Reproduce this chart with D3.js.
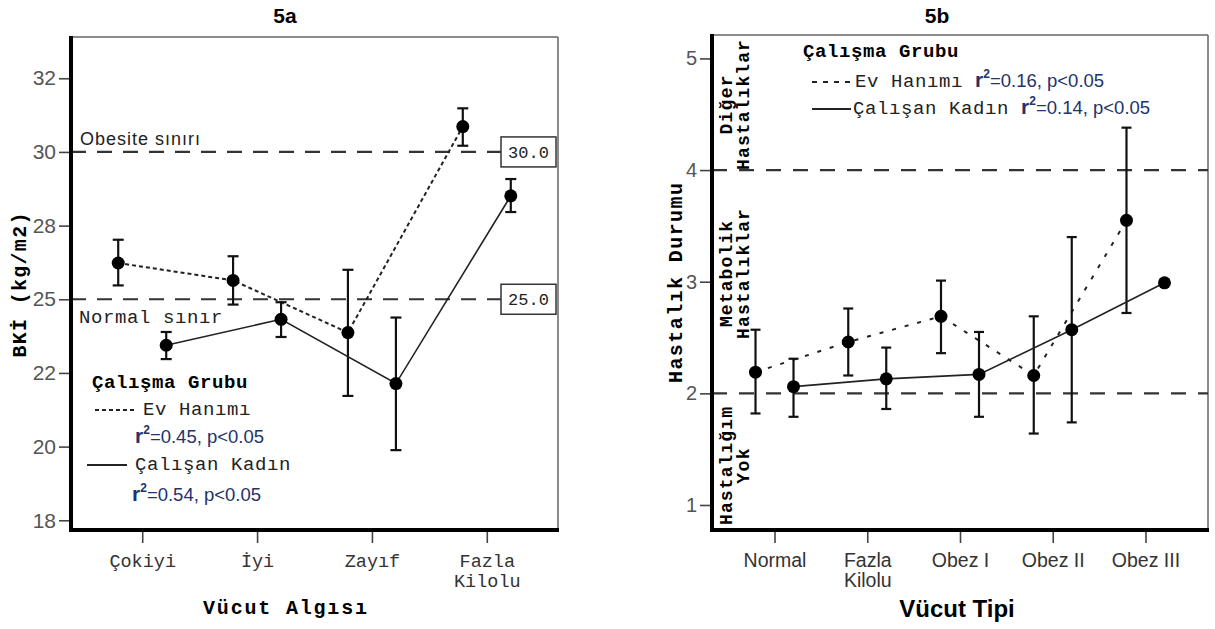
<!DOCTYPE html>
<html>
<head>
<meta charset="utf-8">
<script src="https://cdn.jsdelivr.net/npm/d3@7"></script>
<style>
  body { margin: 0; background: #fff; }
  svg { display: block; background: #fff; }
</style>
</head>
<body>
<svg id="chart" width="1215" height="629"></svg>
<script>
// ---- 5a : BKI by body perception ----
const catsA = ["Çokiyi", "İyi", "Zayıf", "Fazla\nKilolu"];
const evMeanA = [26.23, 25.64, 23.87, 30.86];
const evLowA = [25.47, 24.82, 21.72, 30.21];
const evHighA = [27.02, 26.46, 26.00, 31.48];
const ckMeanA = [23.44, 24.32, 22.14, 28.51];
const ckLowA = [22.97, 23.72, 19.88, 27.96];
const ckHighA = [23.89, 24.90, 24.38, 29.08];
const yTicksA = [17.5, 20, 22.5, 25, 27.5, 30, 32.5];
const yTickLabelsA = ["18", "20", "22", "25", "28", "30", "32"];
const refA = [30, 25];
const refBoxA = ["30.0", "25.0"];

// ---- 5b : disease status by body type ----
const catsB = ["Normal", "Fazla\nKilolu", "Obez I", "Obez II", "Obez III"];
const evMeanB = [2.19, 2.46, 2.69, 2.16, 3.55];
const evLowB = [1.82, 2.16, 2.36, 1.64, 2.72];
const evHighB = [2.57, 2.76, 3.01, 2.69, 4.38];
const ckMeanB = [2.06, 2.13, 2.17, 2.57, 2.99];
const ckLowB = [1.79, 1.86, 1.79, 1.74, null];
const ckHighB = [2.31, 2.41, 2.55, 3.40, null];
const yTicksB = [1, 2, 3, 4, 5];
const refB = [4, 2];
const zonesB = [
  { lines: ["Diğer", "Hastalıklar"], cy: 105 },
  { lines: ["Metabolik", "Hastalıklar"], cy: 274 },
  { lines: ["Hastalığım", "Yok"], cy: 466 }
];

const svg = d3.select("#chart");
const mono = "'Liberation Mono', 'Courier New', monospace";
const sans = "'Liberation Sans', Arial, sans-serif";
const rColor = "#22336b";

function series(g, x, y, cats, mean, lo, hi, off, dash, capW) {
  const pts = cats.map((c, i) => ({ c, m: mean[i], lo: lo[i], hi: hi[i] }));
  const line = d3.line().x(d => x(d.c) + off).y(d => y(d.m));
  g.append("path")
    .datum(pts)
    .attr("d", line)
    .attr("fill", "none")
    .attr("stroke", "#222")
    .attr("stroke-width", dash ? 2 : 1.6)
    .attr("stroke-dasharray", dash || null);
  const eb = g.selectAll(null).data(pts.filter(d => d.lo != null)).join("g")
    .attr("stroke", "#111").attr("stroke-width", 2.2);
  eb.append("line").attr("x1", d => x(d.c) + off).attr("x2", d => x(d.c) + off)
    .attr("y1", d => y(d.lo)).attr("y2", d => y(d.hi));
  eb.append("line").attr("x1", d => x(d.c) + off - capW / 2).attr("x2", d => x(d.c) + off + capW / 2)
    .attr("y1", d => y(d.hi)).attr("y2", d => y(d.hi));
  eb.append("line").attr("x1", d => x(d.c) + off - capW / 2).attr("x2", d => x(d.c) + off + capW / 2)
    .attr("y1", d => y(d.lo)).attr("y2", d => y(d.lo));
  g.selectAll(null).data(pts).join("circle")
    .attr("cx", d => x(d.c) + off).attr("cy", d => y(d.m))
    .attr("r", 6.5).attr("fill", "#000");
}

function frame(g, b) {
  g.append("line").attr("x1", b.left).attr("x2", b.right).attr("y1", b.top).attr("y2", b.top)
    .attr("stroke", "#666").attr("stroke-width", 1.5);
  g.append("line").attr("x1", b.right).attr("x2", b.right).attr("y1", b.top).attr("y2", b.bottom)
    .attr("stroke", "#666").attr("stroke-width", 1.5);
}

function axes(g, x, y, b, yTicks, yFmt, yFont, xFont, xSize, xLineH) {
  const ya = g.append("g").attr("transform", `translate(${b.left},0)`)
    .call(d3.axisLeft(y).tickValues(yTicks).tickFormat(yFmt).tickSize(12).tickPadding(3));
  ya.select(".domain").remove();
  ya.selectAll(".tick line").attr("stroke", "#444").attr("stroke-width", 1.6);
  ya.selectAll(".tick text").attr("font-family", sans).attr("font-size", yFont).attr("fill", "#555");

  const xa = g.append("g").attr("transform", `translate(0,${b.bottom})`)
    .call(d3.axisBottom(x).tickSize(13).tickFormat(""));
  xa.select(".domain").remove();
  xa.selectAll(".tick line").attr("stroke", "#444").attr("stroke-width", 1.6);
  xa.selectAll(".tick").append("text")
    .attr("text-anchor", "middle")
    .attr("font-family", xFont).attr("font-size", xSize).attr("fill", "#333")
    .each(function(d) {
      d3.select(this).selectAll("tspan").data(d.split("\n")).join("tspan")
        .attr("x", 0).attr("y", (t, i) => 37 + i * xLineH).text(t => t);
    });

  g.append("line").attr("x1", b.left).attr("x2", b.left).attr("y1", b.top - 1).attr("y2", b.bottom + 2)
    .attr("stroke", "#000").attr("stroke-width", 4);
  g.append("line").attr("x1", b.left).attr("x2", b.right + 1).attr("y1", b.bottom).attr("y2", b.bottom)
    .attr("stroke", "#000").attr("stroke-width", 4);
}

function vText(g, x, y, txt, size, len, family, weight) {
  g.append("text")
    .attr("transform", `translate(${x},${y}) rotate(-90)`)
    .attr("text-anchor", "middle")
    .attr("font-family", family).attr("font-size", size).attr("font-weight", weight)
    .attr("textLength", len).attr("lengthAdjust", "spacing")
    .text(txt);
}

function rSquared(t, val) {
  t.append("tspan").attr("font-family", sans).attr("font-weight", "bold").attr("font-size", 21).attr("fill", rColor).text("r");
  t.append("tspan").attr("font-family", sans).attr("font-weight", "bold").attr("font-size", 12).attr("dy", -9).attr("fill", rColor).text("2");
  t.append("tspan").attr("font-family", sans).attr("font-size", 18.5).attr("dy", 9).attr("fill", rColor).text(val);
}

// ================= PANEL 5a =================
{
  const b = { left: 71, right: 558, top: 37, bottom: 530 };
  const g = svg.append("g");
  const x = d3.scalePoint().domain(catsA).range([b.left, b.right]).padding(0.62);
  const y = d3.scaleLinear().domain([17.17, 33.9]).range([b.bottom, b.top]);

  frame(g, b);

  refA.forEach((v, i) => {
    g.append("line").attr("x1", b.left).attr("x2", b.right).attr("y1", y(v)).attr("y2", y(v))
      .attr("stroke", "#333").attr("stroke-width", 2.2).attr("stroke-dasharray", "15,11");
    g.append("rect").attr("x", 501).attr("y", y(v) - 15).attr("width", 55).attr("height", 30)
      .attr("fill", "#fff").attr("stroke", "#333").attr("stroke-width", 1.5);
    g.append("text").attr("x", 528.5).attr("y", y(v) + 6).attr("text-anchor", "middle")
      .attr("font-family", mono).attr("font-size", 17).attr("fill", "#222").text(refBoxA[i]);
  });
  g.append("text").attr("x", 80).attr("y", y(30) - 7)
    .attr("font-family", sans).attr("font-size", 18).attr("letter-spacing", 1).attr("fill", "#222")
    .text("Obesite sınırı");
  g.append("text").attr("x", 79).attr("y", y(25) + 24)
    .attr("font-family", mono).attr("font-size", 19).attr("letter-spacing", 0.6).attr("fill", "#222")
    .text("Normal sınır");

  series(g, x, y, catsA, evMeanA, evLowA, evHighA, -24, "4,3", 11);
  series(g, x, y, catsA, ckMeanA, ckLowA, ckHighA, 24, null, 11);

  axes(g, x, y, b, yTicksA, (d, i) => yTickLabelsA[i], 21, mono, 18.5, 20);

  // legend
  g.append("text").attr("x", 92).attr("y", 388)
    .attr("font-family", mono).attr("font-weight", "bold").attr("font-size", 19).attr("letter-spacing", 0.6)
    .text("Çalışma Grubu");
  g.append("line").attr("x1", 95).attr("x2", 135).attr("y1", 410).attr("y2", 410)
    .attr("stroke", "#222").attr("stroke-width", 2).attr("stroke-dasharray", "4,3");
  g.append("text").attr("x", 143).attr("y", 415)
    .attr("font-family", mono).attr("font-size", 19).attr("letter-spacing", 0.6).attr("fill", "#222")
    .text("Ev Hanımı");
  rSquared(g.append("text").attr("x", 135).attr("y", 443), "=0.45, p<0.05");
  g.append("line").attr("x1", 87).attr("x2", 127).attr("y1", 465).attr("y2", 465)
    .attr("stroke", "#222").attr("stroke-width", 1.8);
  g.append("text").attr("x", 135).attr("y", 470)
    .attr("font-family", mono).attr("font-size", 19).attr("letter-spacing", 0.6).attr("fill", "#222")
    .text("Çalışan Kadın");
  rSquared(g.append("text").attr("x", 132).attr("y", 501), "=0.54, p<0.05");

  vText(g, 26, 285, "BKİ (kg/m2)", 20, 145, mono, "bold");
  g.append("text").attr("x", 285).attr("y", 614).attr("text-anchor", "middle")
    .attr("font-family", mono).attr("font-weight", "bold").attr("font-size", 20)
    .attr("textLength", 164).attr("lengthAdjust", "spacing").text("Vücut Algısı");
  g.append("text").attr("x", 285).attr("y", 23).attr("text-anchor", "middle")
    .attr("font-family", sans).attr("font-weight", "bold").attr("font-size", 21).text("5a");
}

// ================= PANEL 5b =================
{
  const b = { left: 712, right: 1208, top: 35, bottom: 530 };
  const g = svg.append("g");
  const x = d3.scalePoint().domain(catsB).range([b.left, b.right]).padding(0.674);
  const y = d3.scaleLinear().domain([0.776, 5.21]).range([b.bottom, b.top]);

  frame(g, b);

  refB.forEach(v => {
    g.append("line").attr("x1", b.left).attr("x2", b.right).attr("y1", y(v)).attr("y2", y(v))
      .attr("stroke", "#333").attr("stroke-width", 2.2).attr("stroke-dasharray", "15,12");
  });

  zonesB.forEach(z => {
    z.lines.forEach((t, i) => {
      vText(g, 732 + i * 17, z.cy, t, 18, t.length * 11.8, mono, "bold");
    });
  });

  series(g, x, y, catsB, evMeanB, evLowB, evHighB, -19, "4,9", 10);
  series(g, x, y, catsB, ckMeanB, ckLowB, ckHighB, 19, null, 10);

  axes(g, x, y, b, yTicksB, d3.format("d"), 20, sans, 19.5, 20);

  // legend
  g.append("text").attr("x", 803).attr("y", 57)
    .attr("font-family", mono).attr("font-weight", "bold").attr("font-size", 19).attr("letter-spacing", 0.6)
    .text("Çalışma Grubu");
  g.append("line").attr("x1", 812).attr("x2", 850).attr("y1", 82).attr("y2", 82)
    .attr("stroke", "#222").attr("stroke-width", 2).attr("stroke-dasharray", "5,6");
  const t1 = g.append("text").attr("x", 855).attr("y", 87);
  t1.append("tspan").attr("font-family", mono).attr("font-size", 19).attr("letter-spacing", 0.6).attr("fill", "#222").text("Ev Hanımı ");
  rSquared(t1, "=0.16, p<0.05");
  g.append("line").attr("x1", 812).attr("x2", 851).attr("y1", 109).attr("y2", 109)
    .attr("stroke", "#222").attr("stroke-width", 1.8);
  const t2 = g.append("text").attr("x", 853).attr("y", 114);
  t2.append("tspan").attr("font-family", mono).attr("font-size", 19).attr("letter-spacing", 0.6).attr("fill", "#222").text("Çalışan Kadın ");
  rSquared(t2, "=0.14, p<0.05");

  vText(g, 682, 283, "Hastalık Durumu", 20, 200, mono, "bold");
  g.append("text").attr("x", 957).attr("y", 617).attr("text-anchor", "middle")
    .attr("font-family", sans).attr("font-weight", "bold").attr("font-size", 24).text("Vücut Tipi");
  g.append("text").attr("x", 937).attr("y", 23).attr("text-anchor", "middle")
    .attr("font-family", sans).attr("font-weight", "bold").attr("font-size", 21).text("5b");
}
</script>
</body>
</html>
